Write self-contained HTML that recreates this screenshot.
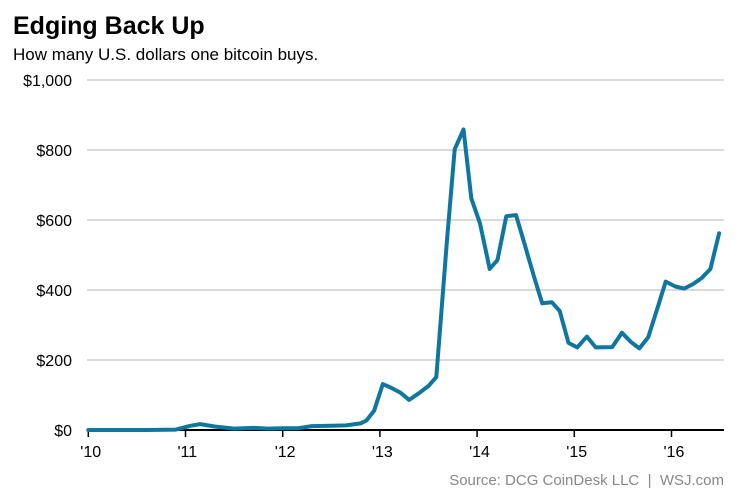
<!DOCTYPE html>
<html><head><meta charset="utf-8"><style>
html,body{margin:0;padding:0;background:#fff;width:749px;height:499px;overflow:hidden;font-family:"Liberation Sans",Arial,sans-serif}
</style></head><body>
<svg id="chart" width="749" height="499" xmlns="http://www.w3.org/2000/svg" font-family="Liberation Sans, Arial, sans-serif">
<text x="13" y="34" font-size="25" font-weight="bold" fill="#000">Edging Back Up</text>
<text x="13" y="60" font-size="17" fill="#000">How many U.S. dollars one bitcoin buys.</text>
<g id="grid"></g><g id="xaxis"></g>
<path id="line" fill="none" stroke="#0f76a0" stroke-width="4" stroke-linejoin="round" stroke-linecap="round"/>
<text x="724" y="485" font-size="15" fill="#888" text-anchor="end">Source: DCG CoinDesk LLC&#160;&#160;|&#160;&#160;WSJ.com</text>
</svg>
<script>
const years=[2010,2010.3,2010.6,2010.9,2011.05,2011.15,2011.3,2011.5,2011.7,2011.85,2012.0,2012.15,2012.3,2012.5,2012.65,2012.8,2012.86,2012.94,2013.03,2013.12,2013.21,2013.30,2013.40,2013.50,2013.58,2013.69,2013.77,2013.86,2013.94,2014.03,2014.13,2014.21,2014.30,2014.40,2014.49,2014.58,2014.67,2014.77,2014.85,2014.94,2015.03,2015.13,2015.22,2015.39,2015.49,2015.58,2015.67,2015.76,2015.85,2015.94,2016.04,2016.13,2016.22,2016.31,2016.40,2016.49];
const prices=[0.1,0.1,0.1,1,12,17,10,4,6,4,5,5,11,12,13,19,27,55,131,120,107,86,105,126,151,543,802,859,662,590,460,486,611,614,530,443,362,365,340,249,236,267,236,237,278,252,233,265,343,424,410,404,417,434,460,562];
const yTicks=[0,200,400,600,800,1000];
const yTickLabels=["$0","$200","$400","$600","$800","$1,000"];
const xTicks=[2010,2011,2012,2013,2014,2015,2016];
const xTickLabels=["'10","'11","'12","'13","'14","'15","'16"];
const NS="http://www.w3.org/2000/svg";
const X=v=>88.3+(v-2010)*97.2;
const Y=v=>430-v*0.35;
const grid=document.getElementById('grid'),xa=document.getElementById('xaxis');
function mk(tag,attrs,parent,txt){const e=document.createElementNS(NS,tag);for(const k in attrs)e.setAttribute(k,attrs[k]);if(txt!==undefined)e.textContent=txt;parent.appendChild(e);return e;}
yTicks.forEach((t,i)=>{
  if(t>0){const l=mk('line',{x1:87,x2:724,y1:Y(t),y2:Y(t),stroke:'#c4c4c4','stroke-width':1.3},grid);
  
  }
  const tx=mk('text',{x:72,y:Y(t)+6,'font-size':16,'text-anchor':'end',fill:'#000'},grid,yTickLabels[i]);
  
  
});
const ax=mk('line',{x1:87,x2:724,y1:430,y2:430,stroke:'#000','stroke-width':2},xa);


xTicks.forEach((t,i)=>{
  const tk=mk('line',{x1:X(t),x2:X(t),y1:430,y2:437,stroke:'#000','stroke-width':1.5},xa);
  
  
  const tx=mk('text',{x:X(t)-8,y:457,'font-size':16,fill:'#000'},xa,xTickLabels[i]);
  
  
});
document.getElementById('line').setAttribute('d',years.map((y,i)=>(i?'L':'M')+X(y).toFixed(1)+','+Y(prices[i]).toFixed(1)).join(''));
</script>
</body></html>
